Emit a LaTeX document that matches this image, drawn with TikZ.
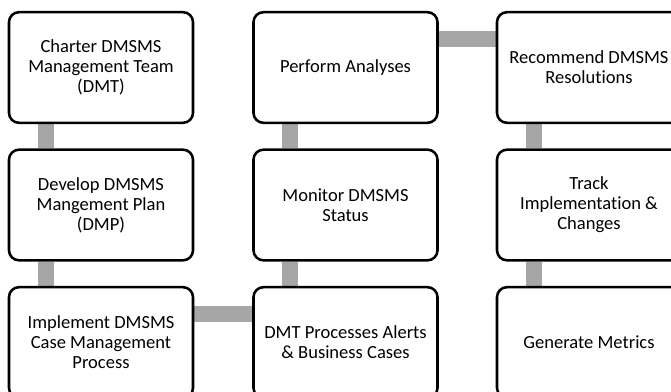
\documentclass[tikz,border=0pt]{standalone}
\usepackage{fontspec}
\setmainfont[Ligatures=NoCommon]{Carlito}
\usetikzlibrary{backgrounds}

\tikzset{every picture/.style={line width=0.75pt}}
\tikzset{
  stepbox/.style={draw=black, line width=1.9pt, rounded corners=7.5pt, fill=white,
    minimum width=138pt, minimum height=83pt, align=center, inner sep=0pt,
    font=\fontsize{13.9}{15}\selectfont},
  bar/.style={draw={rgb, 255:red, 166; green, 166; blue, 166}, line width=12pt}
}

\begin{document}
\begin{tikzpicture}[x=0.75pt,y=0.75pt,yscale=-1,xscale=1]
	\useasboundingbox (0,0) rectangle (671,392);
	\clip (0,0) rectangle (671,392);

	% Column 1
	\node [stepbox] (charter) at (101,67.5) {Charter DMSMS\\Management Team\\(DMT)};
	\node [stepbox] (dmp) at (101,205) {Develop DMSMS\\Mangement Plan\\(DMP)};
	\node [stepbox] (implement) at (101,342.5) {Implement DMSMS\\Case Management\\Process};
	% Column 2
	\node [stepbox] (analyses) at (345.5,67.5) {Perform Analyses};
	\node [stepbox] (monitor) at (345.5,205) {Monitor DMSMS\\Status};
	\node [stepbox] (alerts) at (345.5,342.5) {DMT Processes Alerts\\\& Business Cases};
	% Column 3
	\node [stepbox] (recommend) at (589,67.5) {Recommend DMSMS\\Resolutions};
	\node [stepbox] (track) at (589,205) {Track\\Implementation \&\\Changes};
	\node [stepbox] (metrics) at (589,342.5) {Generate Metrics};

	% Gray links
	\begin{scope}[on background layer]
	\draw [bar] ([xshift=28.5pt]charter.south west) -- ([xshift=28.5pt]dmp.north west);
	\draw [bar] ([xshift=28.5pt]dmp.south west) -- ([xshift=28.5pt]implement.north west);
	\draw [bar] ([yshift=21pt]implement.north east) -- ([yshift=21pt]alerts.north west);
	\draw [bar] ([xshift=28.5pt]alerts.north west) -- ([xshift=28.5pt]monitor.south west);
	\draw [bar] ([xshift=28.5pt]monitor.north west) -- ([xshift=28.5pt]analyses.south west);
	\draw [bar] ([yshift=21pt]analyses.north east) -- ([yshift=21pt]recommend.north west);
	\draw [bar] ([xshift=28.5pt]recommend.south west) -- ([xshift=28.5pt]track.north west);
	\draw [bar] ([xshift=28.5pt]track.south west) -- ([xshift=28.5pt]metrics.north west);
	\end{scope}

\end{tikzpicture}
\end{document}
